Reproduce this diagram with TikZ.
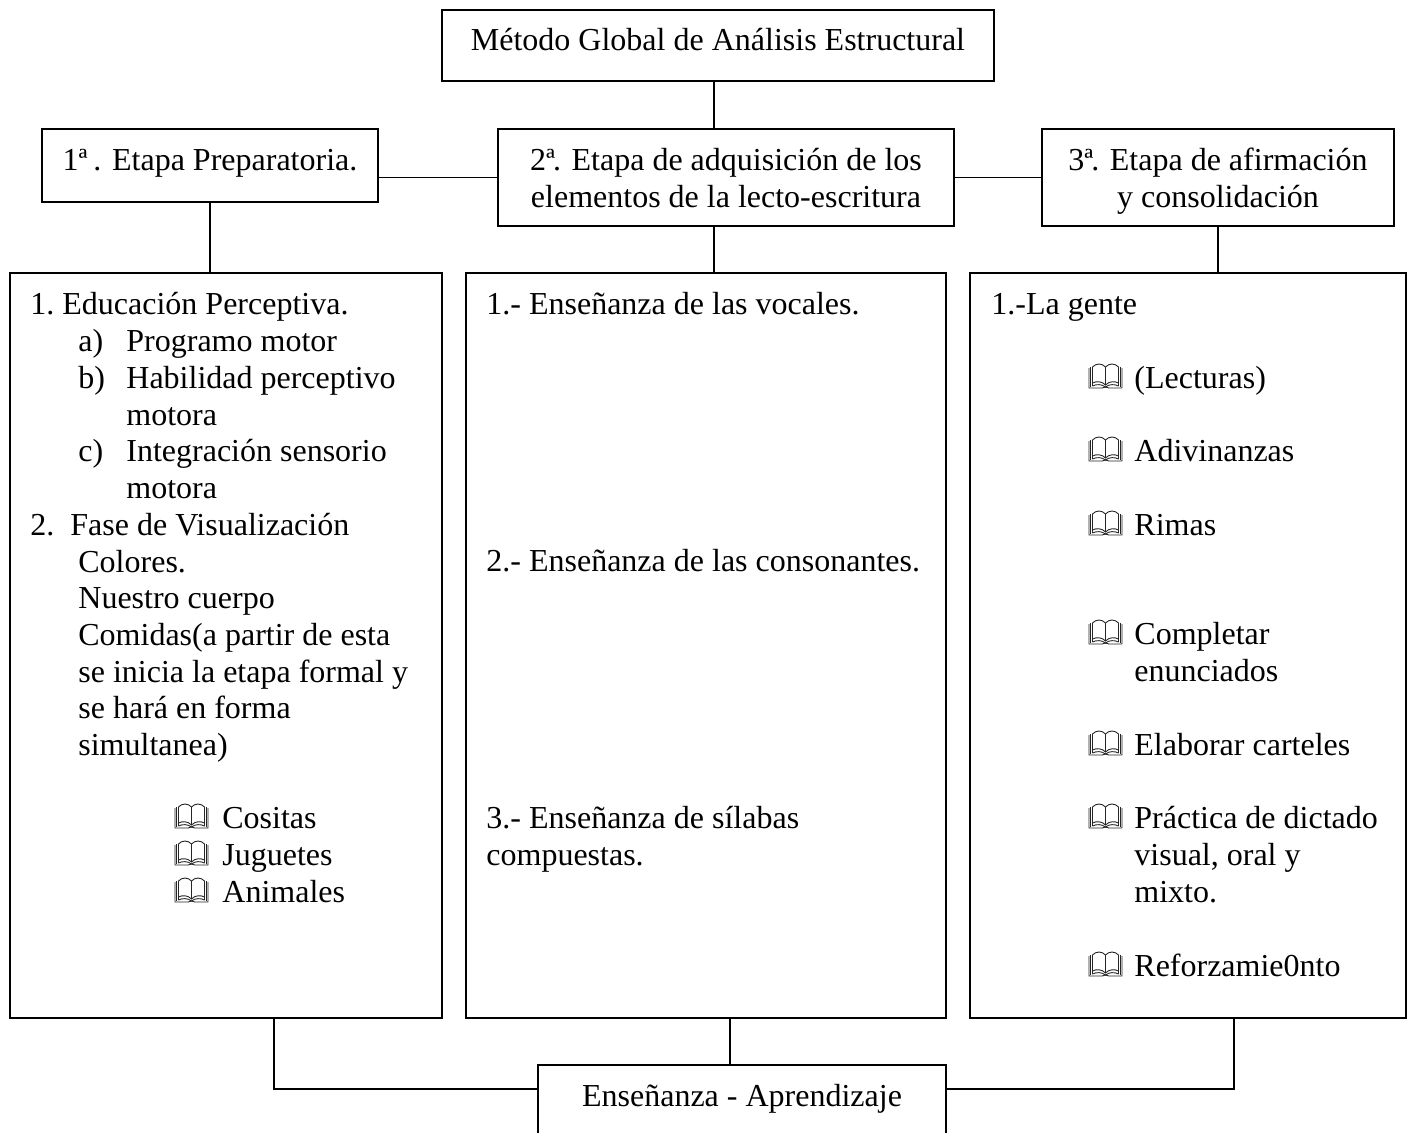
\documentclass[tikz,border=0pt]{standalone}
\usepackage{fontspec}
\setmainfont{Liberation Serif}
\usetikzlibrary{positioning}

\tikzset{
    caja/.style={draw, line width=0.8pt, anchor=north west, inner xsep=0pt, inner ysep=0pt, outer sep=0pt, align=center},
    conector/.style={line width=0.8pt},
    linea/.style={anchor=base west, inner sep=0pt},
    trazo/.style={line width=0.45pt, black!85},
    pics/libro/.style={code={
        \draw[trazo] (3.5,-2) -- (3.5,-21) .. controls (7,-25) and (13,-25) .. (16.5,-21)
            .. controls (20,-25) and (26,-25) .. (29.5,-21) -- (29.5,-2);
        \draw[trazo] (16.5,-21) -- (16.5,-3);
        \draw[trazo] (3.5,-5) .. controls (7,-7) and (13,-7) .. (16.5,-3)
            .. controls (20,-7) and (26,-7) .. (29.5,-5);
        \draw[trazo] (3.5,-2) .. controls (7,-4) and (13,-4) .. (16.5,-1)
            .. controls (20,-4) and (26,-4) .. (29.5,-2);
        \draw[trazo] (0,-20) -- (0,0) -- (13,0) -- (16.5,-1) -- (20,0) -- (33,0) -- (33,-20);
        \draw[trazo] (1.7,-21) -- (1.7,-1) (31.3,-21) -- (31.3,-1);
    }}
}

\begin{document}
\begin{tikzpicture}[x=0.5pt, y=-0.5pt, font=\fontsize{16}{18.4}\selectfont]
\path[use as bounding box, clip] (0,0) rectangle (1416,1132);

% cajas
\node[caja, minimum width=276pt, text height=20pt, text depth=15.5pt] (metodo) at (442,10) {Método Global de Análisis Estructural};
\node[caja, minimum width=168pt, text height=20.5pt, text depth=16pt] (etapa1) at (42,129) {1ª\kern-1pt\ . Etapa Preparatoria.};
\node[caja, minimum width=228pt, text height=39pt, text depth=9.5pt] (etapa2) at (498,129) {2ª\kern-1pt. Etapa de adquisición de los\\elementos de la lecto-escritura};
\node[caja, minimum width=176pt, text height=39pt, text depth=9.5pt] (etapa3) at (1042,129) {3ª\kern-1pt. Etapa de afirmación\\y consolidación};
\node[caja, minimum width=216pt, minimum height=372.5pt] (izq) at (10,273) {};
\node[caja, minimum width=240pt, minimum height=372.5pt] (centro) at (466,273) {};
\node[caja, minimum width=218pt, minimum height=372.5pt] (der) at (970,273) {};
\node[caja, minimum width=204pt, text height=20.5pt, text depth=25pt] (ensenanza) at (538,1065) {Enseñanza - Aprendizaje};

% ejes de los conectores
\coordinate (eje1) at (210,0);
\coordinate (eje2) at (714,0);
\coordinate (eje3) at (1218,0);
\coordinate (eje4) at (274,1089);
\coordinate (eje5) at (730,0);
\coordinate (eje6) at (1234,1089);

\draw[conector] (metodo.south -| eje2) -- (etapa2.north -| eje2);
\draw[conector] (etapa1.east |- etapa2.west) -- (etapa2.west);
\draw[conector] (etapa2.east) -- (etapa3.west);
\draw[conector] (etapa1.south -| eje1) -- (izq.north -| eje1);
\draw[conector] (etapa2.south -| eje2) -- (centro.north -| eje2);
\draw[conector] (etapa3.south -| eje3) -- (der.north -| eje3);
\draw[conector] (izq.south -| eje4) -- (eje4) -- (ensenanza.west |- eje4);
\draw[conector] (centro.south -| eje5) -- (ensenanza.north -| eje5);
\draw[conector] (der.south -| eje6) -- (eje6) -- (ensenanza.east |- eje6);

% textos
\foreach \x/\y/\t [count=\i] in {30/314/1.,62/314/Educación Perceptiva.,
    78/351/a),126/351/Programo motor,78/388/b),126/388/Habilidad perceptivo,126/425/motora,
    78/461/c),126/461/Integración sensorio,126/498/motora,
    30/535/2.,70/535/Fase de Visualización,78/572/Colores.,78/608/Nuestro cuerpo,
    78/645/Comidas(a partir de esta,78/682/se inicia la etapa formal y,78/718/se hará en forma,78/755/simultanea),
    222/828/Cositas,222/865/Juguetes,222/902/Animales}{
    \node[linea] (izq-\i) at (\x,\y) {\t};}
\foreach \y/\t [count=\i] in {314/1.- Enseñanza de las vocales.,571/2.- Enseñanza de las consonantes.,
    828/3.- Enseñanza de sílabas,865/compuestas.}{
    \node[linea] (centro-\i) at (486,\y) {\t};}
\node[linea] (der-0) at (991,314) {1.-La gente};
\foreach \y/\t [count=\i] in {388/(Lecturas),461/Adivinanzas,535/Rimas,644/Completar,681/enunciados,
    755/Elaborar carteles,828/Práctica de dictado,865/{visual, oral y},902/mixto.,976/Reforzamie0nto}{
    \node[linea] (der-\i) at (1134,\y) {\t};}

% libros
\foreach \x/\y in {175/828,175/865,175/902,1089/388,1089/461,1089/535,1089/644,1089/755,1089/828,1089/976}{
    \pic at (\x,\y) {libro};}
\end{tikzpicture}
\end{document}
